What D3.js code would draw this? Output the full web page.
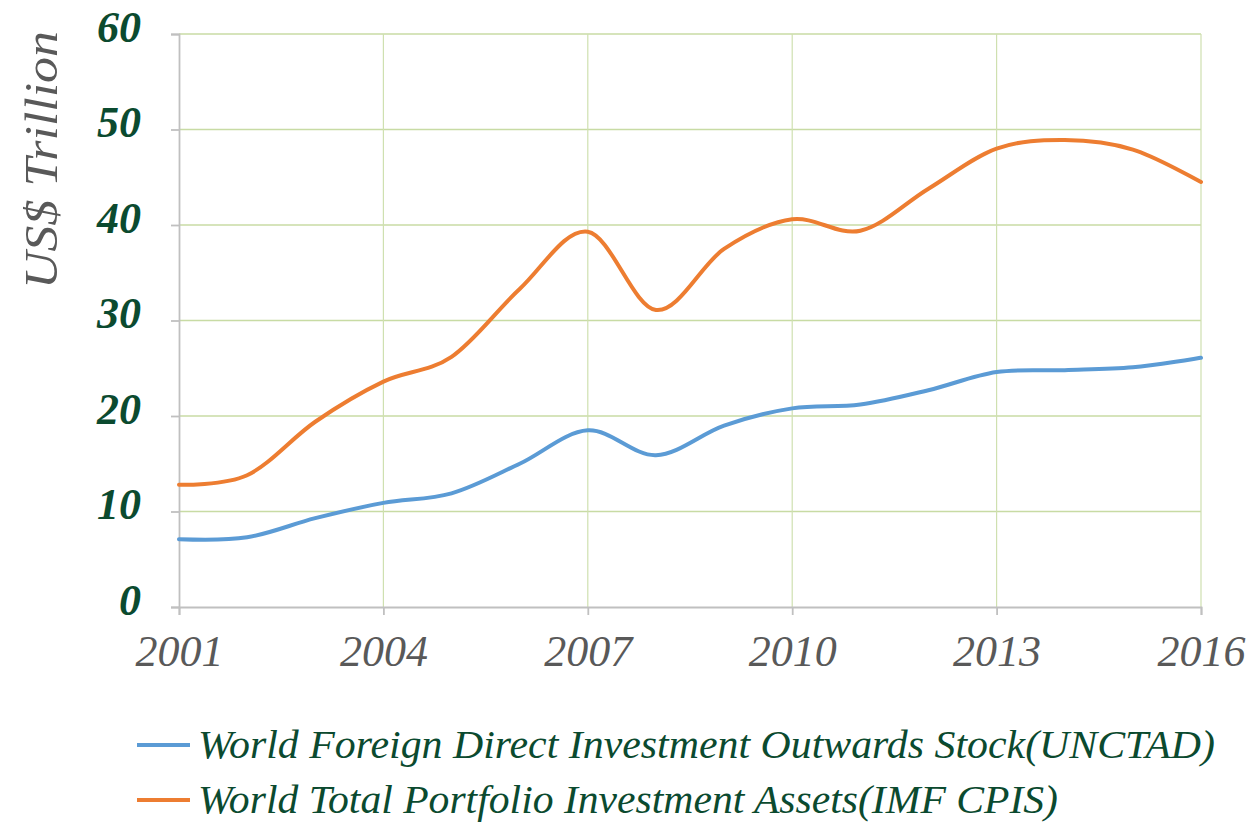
<!DOCTYPE html>
<html>
<head>
<meta charset="utf-8">
<script src="https://cdn.jsdelivr.net/npm/d3@7"></script>
<style>
  body { margin: 0; background: #fff; }
  text { font-family: "Liberation Serif", serif; font-style: italic; }
</style>
</head>
<body>
<div id="chart"></div>
<script>
var years = [2001, 2002, 2003, 2004, 2005, 2006, 2007, 2008, 2009, 2010, 2011, 2012, 2013, 2014, 2015, 2016];
var fdiStock = [7.1, 7.3, 9.3, 10.9, 11.9, 15.0, 18.5, 15.9, 19.0, 20.8, 21.2, 22.7, 24.6, 24.8, 25.1, 26.1];
var portfolioAssets = [12.8, 13.8, 19.4, 23.6, 26.2, 33.3, 39.3, 31.1, 37.5, 40.6, 39.4, 43.8, 48.0, 48.9, 47.9, 44.5];
var xTicks = [2001, 2004, 2007, 2010, 2013, 2016];
var yTicks = [0, 10, 20, 30, 40, 50, 60];
var seriesNames = ["World Foreign Direct Investment Outwards Stock(UNCTAD)",
                   "World Total Portfolio Investment Assets(IMF CPIS)"];

var W = 1260, H = 832;
var margin = {top: 34, right: 59, bottom: 225, left: 179},
    width = W - margin.left - margin.right,
    height = H - margin.top - margin.bottom;

var svg = d3.select("#chart")
  .append("svg")
    .attr("width", W)
    .attr("height", H);

var g = svg.append("g")
    .attr("transform", "translate(" + margin.left + "," + margin.top + ")");

var x = d3.scaleLinear()
  .domain([2001, 2016])
  .range([0, width]);

var y = d3.scaleLinear()
  .domain([0, 60])
  .range([height, 0]);

// gridlines
g.append("g")
  .selectAll("line")
  .data(yTicks.slice(1))
  .enter()
  .append("line")
    .attr("x1", 0).attr("x2", width)
    .attr("y1", function(d) { return y(d); })
    .attr("y2", function(d) { return y(d); })
    .attr("stroke", "#c8dba4")
    .attr("stroke-width", 1.6);

g.append("g")
  .selectAll("line")
  .data(xTicks.slice(1))
  .enter()
  .append("line")
    .attr("x1", function(d) { return x(d); })
    .attr("x2", function(d) { return x(d); })
    .attr("y1", 0).attr("y2", height)
    .attr("stroke", "#cfe0b0")
    .attr("stroke-width", 1.2);

// axes
var xAxis = g.append("g")
  .attr("transform", "translate(0," + height + ")")
  .call(d3.axisBottom(x).tickValues(xTicks).tickFormat(d3.format("d")).tickSize(8).tickPadding(20));

var yAxis = g.append("g")
  .call(d3.axisLeft(y).tickValues(yTicks).tickSize(8).tickPadding(30));

[xAxis, yAxis].forEach(function(a) {
  a.select(".domain").attr("stroke", "#c0c0c0").attr("stroke-width", 1.8);
  a.selectAll(".tick line").attr("stroke", "#c0c0c0").attr("stroke-width", 1.8);
});

xAxis.selectAll(".tick text")
  .attr("fill", "#595959")
  .style("font-size", "44px")
  .attr("dy", "0.71em");

yAxis.selectAll(".tick text")
  .attr("fill", "#0b4a2f")
  .style("font-size", "44px")
  .style("font-weight", "bold")
  .attr("dy", "0.16em");

// lines
var line = d3.line()
  .x(function(d, i) { return x(years[i]); })
  .y(function(d) { return y(d); })
  .curve(d3.curveCardinal.tension(0));

g.append("path")
  .datum(fdiStock)
  .attr("fill", "none")
  .attr("stroke", "#5b9bd5")
  .attr("stroke-width", 4)
  .attr("stroke-linecap", "round")
  .attr("d", line);

g.append("path")
  .datum(portfolioAssets)
  .attr("fill", "none")
  .attr("stroke", "#ed7d31")
  .attr("stroke-width", 4)
  .attr("stroke-linecap", "round")
  .attr("d", line);

// y axis title
svg.append("text")
  .attr("transform", "translate(57,160) rotate(-90)")
  .style("text-anchor", "middle")
  .style("font-size", "46px")
  .attr("fill", "#595959")
  .attr("textLength", 258)
  .attr("lengthAdjust", "spacingAndGlyphs")
  .text("US$ Trillion");

// legend
var legendColors = ["#5b9bd5", "#ed7d31"];
var legendWidths = [1017, 860];
var legend = svg.append("g");
seriesNames.forEach(function(name, i) {
  var ly = 745 + i * 55;
  legend.append("line")
    .attr("x1", 137).attr("x2", 190)
    .attr("y1", ly).attr("y2", ly)
    .attr("stroke", legendColors[i])
    .attr("stroke-width", 4);
  legend.append("text")
    .attr("x", 198)
    .attr("y", ly + 13)
    .attr("fill", "#0b4a2f")
    .style("font-size", "40px")
    .attr("textLength", legendWidths[i])
    .attr("lengthAdjust", "spacingAndGlyphs")
    .text(name);
});
</script>
</body>
</html>
